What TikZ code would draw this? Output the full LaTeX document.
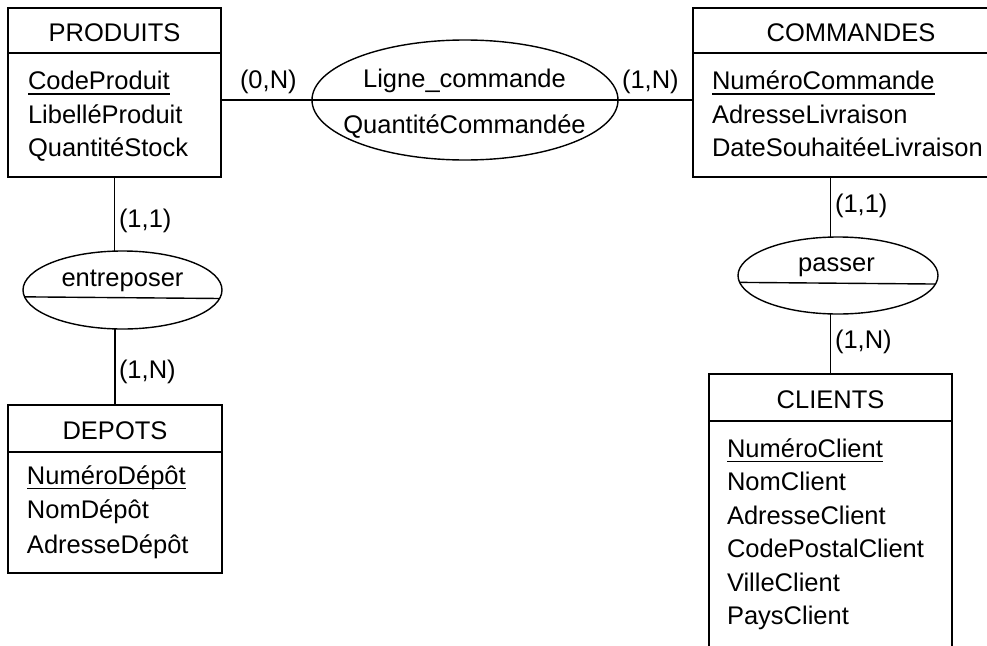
\documentclass[tikz,border=0pt]{standalone}
\usepackage{fontspec}
\setmainfont{Liberation Sans}
\usetikzlibrary{shapes.geometric}
\tikzset{
  entity/.style={draw, line width=1.3pt, rectangle, inner sep=0pt, outer sep=0pt, anchor=north west},
  assoc/.style={draw, line width=1.4pt, ellipse, inner sep=0pt, outer sep=0pt},
  txt/.style={inner sep=0pt, outer sep=0pt, font=\fontsize{25.5}{30}\selectfont},
  attr/.style={txt, anchor=base west},
  ttl/.style={txt, anchor=base},
  card/.style={txt, anchor=base west},
  link/.style={line width=1.4pt},
  uline/.style={line width=1.3pt}
}
\begin{document}
\begin{tikzpicture}[x=1pt,y=-1pt]
\useasboundingbox (0,0) rectangle (987,645);
\clip (0,0) rectangle (987,645);
\fill[white] (0,0) rectangle (987,645);

% entity boxes
\node[entity, minimum width=213pt, minimum height=169pt] (prod) at (8,8) {};
\node[entity, minimum width=316pt, minimum height=169pt] (com) at (693,8) {};
\node[entity, minimum width=214pt, minimum height=168pt] (dep) at (8,405) {};
\node[entity, minimum width=243pt, minimum height=330pt] (cli) at (709,374) {};

% header dividers
\draw[link] ([yshift=-45pt]prod.north west) -- ([yshift=-45pt]prod.north east);
\draw[link] ([yshift=-45pt]com.north west) -- ([yshift=-45pt]com.north east);
\draw[link] ([yshift=-47pt]dep.north west) -- ([yshift=-47pt]dep.north east);
\draw[link] ([yshift=-47pt]cli.north west) -- ([yshift=-47pt]cli.north east);

% titles
\node[ttl] (tprod) at (114.5,41) {PRODUITS};
\node[ttl] (tcom) at (851,41) {COMMANDES};
\node[ttl] (tdep) at (115,439) {DEPOTS};
\node[ttl] (tcli) at (830.5,408) {CLIENTS};

% PRODUITS attributes
\node[attr] (p1) at (28,89.5) {CodeProduit};
\node[attr] (p2) at (28,123) {LibelléProduit};
\node[attr] (p3) at (28,156.5) {QuantitéStock};
\draw[uline] ([yshift=-4.5pt]p1.base west) -- ([yshift=-4.5pt]p1.base east);

% COMMANDES attributes
\node[attr] (c1) at (712,89.5) {NuméroCommande};
\node[attr] (c2) at (712,123) {AdresseLivraison};
\node[attr] (c3) at (712,156.5) {DateSouhaitéeLivraison};
\draw[uline] ([yshift=-4.5pt]c1.base west) -- ([yshift=-4.5pt]c1.base east);

% DEPOTS attributes
\node[attr] (d1) at (27,484) {NuméroDépôt};
\node[attr] (d2) at (27,518.5) {NomDépôt};
\node[attr] (d3) at (27,553) {AdresseDépôt};
\draw[uline] ([yshift=-4.5pt]d1.base west) -- ([yshift=-4.5pt]d1.base east);

% CLIENTS attributes
\node[attr] (k1) at (727,457) {NuméroClient};
\node[attr] (k2) at (727,490.5) {NomClient};
\node[attr] (k3) at (727,524) {AdresseClient};
\node[attr] (k4) at (727,557.5) {CodePostalClient};
\node[attr] (k5) at (727,591) {VilleClient};
\node[attr] (k6) at (727,624.5) {PaysClient};
\draw[uline] ([yshift=-4.5pt]k1.base west) -- ([yshift=-4.5pt]k1.base east);

% associations
\node[assoc, minimum width=306pt, minimum height=120pt] (lc) at (465,100) {};
\draw[link] (lc.west) -- (lc.east);
\node[ttl] (lct) at (464.5,87) {Ligne\_commande};
\node[ttl] (lca) at (464.5,133) {QuantitéCommandée};

\node[assoc, minimum width=199pt, minimum height=78pt] (ent) at (122.5,290) {};
\draw[link] (ent.184.4) -- (ent.355.6);
\node[ttl] (entt) at (122.5,286) {entreposer};

\node[assoc, minimum width=200pt, minimum height=77pt] (pas) at (838,275.5) {};
\draw[link] (pas.184.4) -- (pas.355.6);
\node[ttl] (past) at (836.5,271) {passer};

% connectors
\draw[link] (prod.east |- lc.west) -- (lc.west);
\draw[link] (lc.east) -- (lc.east -| com.west);
\draw[link] (prod.south) -- (prod.south |- ent.north);
\draw[link] (dep.north) -- (dep.north |- ent.south);
\draw[link] (cli.north |- com.south) -- (cli.north |- pas.north);
\draw[link] (cli.north) -- (cli.north |- pas.south);

% cardinalities
\node[card] (k01) at (240,88) {(0,N)};
\node[card] (k02) at (622,88) {(1,N)};
\node[card] (k03) at (119,227) {(1,1)};
\node[card] (k04) at (119,378) {(1,N)};
\node[card] (k05) at (835,212) {(1,1)};
\node[card] (k06) at (835,348) {(1,N)};
\end{tikzpicture}
\end{document}
